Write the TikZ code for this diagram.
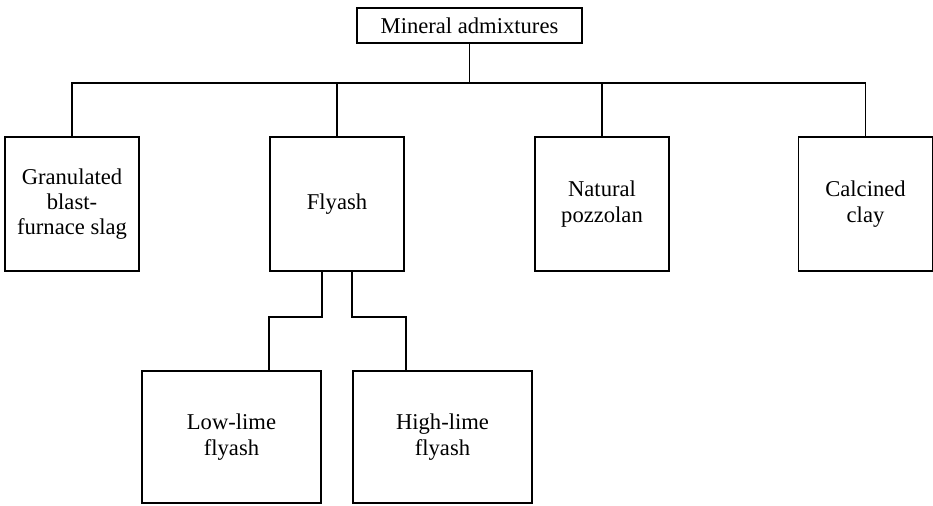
\documentclass[tikz,border=0pt]{standalone}
\usepackage{fontspec}
\setmainfont{Liberation Serif}
\usepackage{tikz}
\usetikzlibrary{positioning, calc}

\begin{document}
\begin{tikzpicture}[
    x=0.5pt, y=-0.5pt,
    line width=0.7pt,
    font=\fontsize{11.3}{12.6}\selectfont,
    catbox/.style={draw, align=center, inner sep=1pt, minimum width=67pt, minimum height=67pt},
    subbox/.style={catbox, minimum width=89.5pt, minimum height=66pt}
]
    \useasboundingbox (0,0) rectangle (933,505);
    % root and the four classes of admixture
    \node[draw, minimum width=112.5pt, minimum height=17.5pt, inner sep=1pt] (root) at (469.5,25.5) {Mineral admixtures};
    \node[catbox] (slag) at (72,204) {Granulated\\blast-\\furnace slag};
    \node[catbox] (fly) at (337,204) {Flyash};
    \node[catbox] (pozz) at (602,204) {Natural\\pozzolan};
    \node[catbox] (clay) at (865.5,204) {Calcined\\clay};
    % the two kinds of flyash
    \node[subbox] (low) at (231.5,437) {Low-lime\\flyash};
    \node[subbox] (high) at (442.5,437) {High-lime\\flyash};

    \coordinate (bus) at (root.south |- 0,83);
    \coordinate (lowjoin) at (269,317);
    \coordinate (highjoin) at (406,317);

    \draw (root.south) -- (bus);
    \draw (bus) -| (slag.north);
    \draw (bus) -| (fly.north);
    \draw (bus) -| (pozz.north);
    \draw (bus) -| (clay.north);
    \draw ([xshift=-7.5pt]fly.south) |- (lowjoin) -- (lowjoin |- low.north);
    \draw ([xshift=7.5pt]fly.south) |- (highjoin) -- (highjoin |- high.north);
\end{tikzpicture}
\end{document}
